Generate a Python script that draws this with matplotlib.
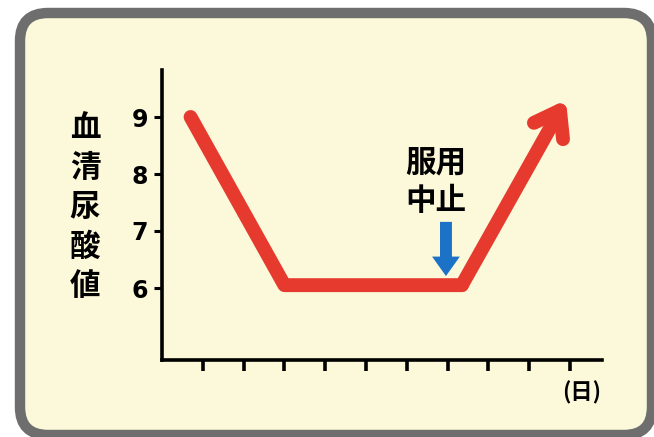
import matplotlib
matplotlib.use("Agg")
import matplotlib.pyplot as plt
from matplotlib.patches import FancyBboxPatch

# ---- data ----
days = [0.7, 3.0, 7.35, 9.9]
uric = [9.0, 6.05, 6.05, 9.3]
y_ticks = [6, 7, 8, 9]
x_ticks = [1, 2, 3, 4, 5, 6, 7, 8, 9, 10]
stop_day = 6.96
stop_arrow_from = 7.16
stop_arrow_to = 6.21
ylabel_chars = ["血", "清", "尿", "酸", "値"]
stop_text = ["服用", "中止"]
x_unit = "(日)"

RED = "#E63A2E"
BLUE = "#1C72C6"
CREAM = "#FCF8DA"
GRAY = "#6E6E6E"
JP = ["Noto Sans CJK JP", "DejaVu Sans"]

W, H = 654, 437
fig = plt.figure(figsize=(W / 100, H / 100), dpi=100)
fig.patch.set_facecolor("white")

# background frame in pixel coordinates
bg = fig.add_axes([0, 0, 1, 1], zorder=-5)
bg.set_xlim(0, W)
bg.set_ylim(H, 0)
bg.axis("off")
frame = FancyBboxPatch((20, 13), 652 - 20, 435 - 13,
                       boxstyle="round,pad=0,rounding_size=28",
                       facecolor=CREAM, edgecolor=GRAY, linewidth=7.5)
bg.add_patch(frame)

ax = fig.add_axes([162 / W, 77 / H, 440 / W, 290 / H])
ax.set_facecolor("none")
ax.set_xlim(0, 440 / 40.8)
ax.set_ylim(6 - (360 - 288) / 57, 6 + (288 - 70) / 57)
for s in ("top", "right"):
    ax.spines[s].set_visible(False)
for s in ("left", "bottom"):
    ax.spines[s].set_linewidth(2.6)
    ax.spines[s].set_color("black")
ax.set_xticks(x_ticks)
ax.set_xticklabels([])
ax.set_yticks(y_ticks)
ax.set_yticklabels([str(v) for v in y_ticks], fontsize=17, fontweight="bold",
                   family=["DejaVu Sans"])
ax.tick_params(axis="x", direction="out", length=8, width=2.6, color="black")
ax.tick_params(axis="y", direction="out", length=6, width=2.2, color="black", pad=4)

# red line
ax.plot(days[:-1], uric[:-1], color=RED, lw=10, solid_capstyle="round",
        solid_joinstyle="round", zorder=3)
ax.annotate("", xy=(days[-1], uric[-1]), xytext=(days[-2], uric[-2]),
            arrowprops=dict(arrowstyle="->,head_length=0.85,head_width=0.6",
                            color=RED, lw=10, mutation_scale=20,
                            shrinkA=0, shrinkB=0, capstyle="round",
                            joinstyle="round"), zorder=3)

# blue arrow
ax.annotate("", xy=(stop_day, stop_arrow_to), xytext=(stop_day, stop_arrow_from),
            arrowprops=dict(arrowstyle="simple,head_length=0.7,head_width=1.0,tail_width=0.43",
                            color=BLUE, mutation_scale=20, shrinkA=0, shrinkB=0,
                            lw=0), zorder=4)

# stop text
ax.text(6.72, 8.21, stop_text[0], ha="center", va="center", fontsize=22,
        fontweight="bold", family=JP)
ax.text(6.72, 7.53, stop_text[1], ha="center", va="center", fontsize=22,
        fontweight="bold", family=JP)

# vertical y label
for i, ch in enumerate(ylabel_chars):
    fig.text(85 / W, 1 - (128 + i * 39.5) / H, ch, ha="center", va="center",
             fontsize=22, fontweight="bold", family=JP)

# x unit
fig.text(582 / W, 1 - 393 / H, x_unit, ha="center", va="center", fontsize=16,
         fontweight="bold", family=JP)

fig.savefig("out.png", dpi=100, facecolor=fig.get_facecolor())
